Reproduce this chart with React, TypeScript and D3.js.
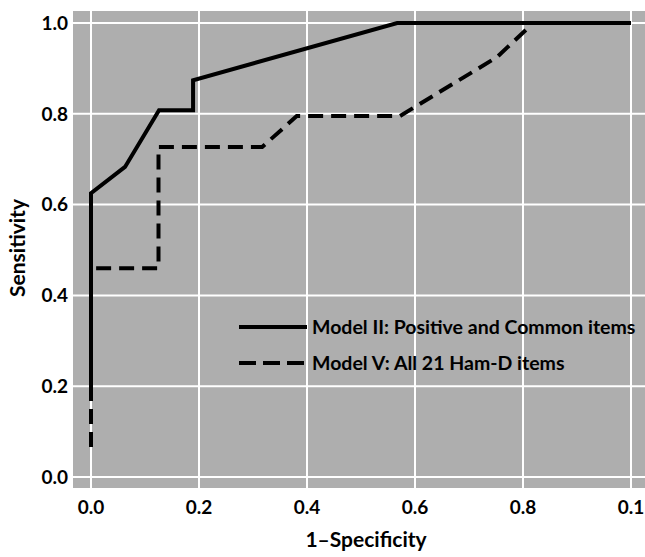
import React from 'react';
import * as d3 from 'd3';

// ROC points
const modelIIFpr = [0, 0, 0.063, 0.126, 0.189, 0.189, 0.567, 1.0];
const modelIITpr = [0.175, 0.625, 0.683, 0.808, 0.808, 0.874, 1.0, 1.0];

const modelVFpr = [0, 0, 0.125, 0.125, 0.317, 0.381, 0.572, 0.752, 0.81];
const modelVTpr = [0.066, 0.46, 0.46, 0.727, 0.727, 0.795, 0.795, 0.925, 0.99];

const ticks = [0, 0.2, 0.4, 0.6, 0.8, 1.0];
const xTickLabels = ['0.0', '0.2', '0.4', '0.6', '0.8', '0.1'];
const yTickLabels = ['0.0', '0.2', '0.4', '0.6', '0.8', '1.0'];

const legendLabels = ['Model II: Positive and Common items', 'Model V: All 21 Ham-D items'];

const width = 645;
const height = 557;
const font = 'Lato, "Open Sans", sans-serif';

const App = () => {
  const x = d3.scaleLinear().domain([0, 1]).range([91, 631]);
  const y = d3.scaleLinear().domain([0, 1]).range([477, 23]);

  const line = d3
    .line<[number, number]>()
    .x(d => x(d[0]))
    .y(d => y(d[1]));

  const solid = line(modelIIFpr.map((f, i) => [f, modelIITpr[i]]));
  const dashed = line(modelVFpr.map((f, i) => [f, modelVTpr[i]]));

  return (
    <svg
      width={width}
      height={height}
      style={{ position: 'absolute', left: 0, top: 0, background: '#fff' }}
    >
      {/* gray panel */}
      <rect x={73} y={11} width={width - 73} height={477} fill="#aeaeae" />

      {/* grid */}
      {ticks.map(t => (
        <line key={'v' + t} x1={x(t)} x2={x(t)} y1={11} y2={488} stroke="#fff" strokeWidth={2} />
      ))}
      {ticks.map(t => (
        <line key={'h' + t} x1={73} x2={width} y1={y(t)} y2={y(t)} stroke="#fff" strokeWidth={2} />
      ))}

      {/* curves */}
      <path d={solid || ''} fill="none" stroke="#000" strokeWidth={4} strokeLinejoin="miter" />
      <path d={dashed || ''} fill="none" stroke="#000" strokeWidth={4} strokeDasharray="15 8" />

      {/* tick labels */}
      <g fontFamily={font} fontWeight={700} fontSize={19} fill="#000">
        {ticks.map((t, i) => (
          <text key={'xl' + t} x={x(t)} y={514} textAnchor="middle">
            {xTickLabels[i]}
          </text>
        ))}
        {ticks.map((t, i) => (
          <text key={'yl' + t} x={68} y={y(t)} dy="0.36em" textAnchor="end">
            {yTickLabels[i]}
          </text>
        ))}
      </g>

      {/* axis titles */}
      <g fontFamily={font} fontWeight={700} fontSize={21} fill="#000">
        <text x={366} y={547} textAnchor="middle">1–Specificity</text>
        <text transform="translate(25, 248) rotate(-90)" textAnchor="middle">
          Sensitivity
        </text>
      </g>

      {/* legend */}
      <g fontFamily={font} fontWeight={700} fontSize={19.5} fill="#000">
        <line x1={239} x2={307} y1={327} y2={327} stroke="#000" strokeWidth={4} />
        <text x={312} y={327} dy="0.36em">{legendLabels[0]}</text>
        <line x1={239} x2={307} y1={363} y2={363} stroke="#000" strokeWidth={4} strokeDasharray="17 7" />
        <text x={312} y={363} dy="0.36em">{legendLabels[1]}</text>
      </g>
    </svg>
  );
};

export default App;
